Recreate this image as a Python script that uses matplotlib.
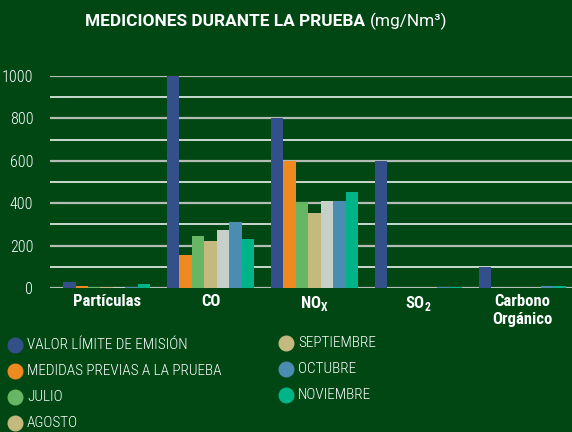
import matplotlib
matplotlib.use("Agg")
import matplotlib.pyplot as plt
from matplotlib.lines import Line2D
import numpy as np

categories = ["Partículas", "CO", "NO$_\\mathbf{X}$", "SO$_\\mathbf{2}$", "Carbono\nOrgánico"]
series_names = [
    "VALOR LÍMITE DE EMISIÓN",
    "MEDIDAS PREVIAS A LA PRUEBA",
    "JULIO",
    "AGOSTO",
    "SEPTIEMBRE",
    "OCTUBRE",
    "NOVIEMBRE",
]
valor_limite = [30, 1000, 800, 600, 100]
medidas_previas = [8, 155, 600, 2, 2]
julio = [5, 245, 405, 2, 2]
agosto = [5, 222, 355, 2, 2]
septiembre = [5, 273, 410, 2, 2]
octubre = [7, 312, 410, 3, 8]
noviembre = [18, 232, 455, 3, 8]
series = [valor_limite, medidas_previas, julio, agosto, septiembre, octubre, noviembre]

bar_colors = ["#34508a", "#ee8a1f", "#67b663", "#c4b97e", "#c6d0c8", "#4a8db0", "#00b48a"]
# legend dot for SEPTIEMBRE is tan in the original
legend_colors = ["#34508a", "#ee8a1f", "#67b663", "#c4b97e", "#c4b97e", "#4a8db0", "#00b48a"]
bg = "#004714"

narrow = ["Roboto Condensed", "Liberation Sans"]
plt.rcParams["mathtext.fontset"] = "custom"
plt.rcParams["mathtext.bf"] = "Roboto Condensed:bold"
plt.rcParams["mathtext.rm"] = "Roboto Condensed:bold"

fig = plt.figure(figsize=(5.72, 4.32), dpi=100, facecolor=bg)
ax = fig.add_axes([50 / 572, 1 - 288 / 432, 522 / 572, 212 / 432])
ax.set_facecolor(bg)

x = np.arange(len(categories))
n = len(series)
w = 0.84 / n
for i, (vals, c) in enumerate(zip(series, bar_colors)):
    ax.bar(x + (i - (n - 1) / 2) * w, vals, width=w, color=c, zorder=3)

for yv in range(0, 1001, 100):
    if yv % 200 == 0:
        ax.axhline(yv, color="#b4bdb4", lw=1.6, zorder=1)
    else:
        ax.axhline(yv, color="white", lw=1.1, zorder=1)

ax.set_xlim(-0.546, 4.48)
ax.set_ylim(0, 1000)
for s in ax.spines.values():
    s.set_visible(False)
ax.set_yticks(range(0, 1001, 200))
ax.set_yticklabels([str(v) for v in range(0, 1001, 200)], family=narrow, fontsize=11.5,
                   color="white", fontweight="light")
ax.tick_params(axis="y", length=0, pad=12)
ax.set_xticks(x)
ax.set_xticklabels(categories, family=narrow, fontsize=12, fontweight="bold", color="white",
                   linespacing=1.25, va="top")
ax.tick_params(axis="x", length=0, pad=4)

# title
title_font = ["Roboto", "DejaVu Sans"]
fig.text(365 / 572, 1 - 21 / 432, "MEDICIONES DURANTE LA PRUEBA", ha="right", va="center",
         fontsize=12.4, fontweight="bold", color="white", family=title_font)
fig.text(370 / 572, 1 - 21 / 432, "(mg/Nm³)", ha="left", va="center",
         fontsize=12.4, color="white", family=title_font)

# legend, two columns
rows1 = [345, 371, 397, 423]
rows2 = [343, 369, 395]
positions = [(15, 27, y) for y in rows1] + [(286, 298, y) for y in rows2]
for (mx, tx, y), name, c in zip(positions, series_names, legend_colors):
    fig.add_artist(Line2D([mx / 572], [1 - y / 432], marker="o", markersize=10.5,
                          color=c, transform=fig.transFigure))
    fig.text(tx / 572, 1 - y / 432, name, ha="left", va="center", fontsize=11,
             color="white", family=narrow, fontweight="light")

fig.savefig("out.png", dpi=100, facecolor=bg)
